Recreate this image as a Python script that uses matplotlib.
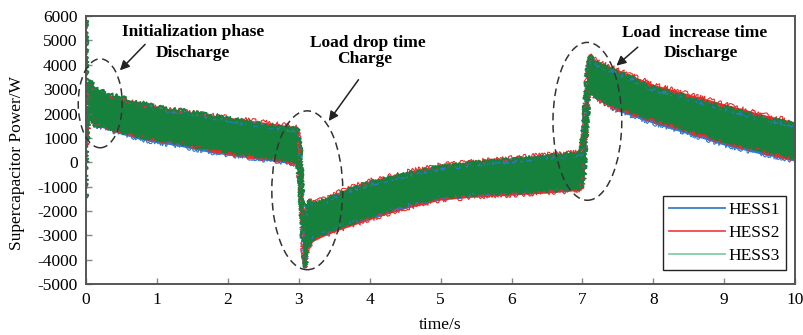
import matplotlib
matplotlib.use("Agg")
import matplotlib.pyplot as plt
from matplotlib.patches import Ellipse
from matplotlib.lines import Line2D

plt.rcParams["font.family"] = ["Liberation Serif", "DejaVu Serif"]
plt.rcParams["font.size"] = 12.5
plt.rcParams["axes.unicode_minus"] = False

# time points (s) where the band edges were read
t = [0, 0.005, 0.02, 0.04, 0.07, 0.1, 0.14, 0.2, 0.3, 0.5,
     0.75, 1.0, 1.25, 1.5, 1.75, 2.0, 2.25, 2.5, 2.75, 2.98,
     3.02, 3.06, 3.09, 3.13, 3.2, 3.3, 3.5, 3.75, 4.0, 4.5,
     5.0, 5.5, 6.0, 6.5, 6.98, 7.02, 7.06, 7.1, 7.2, 7.5,
     8.0, 8.5, 9.0, 9.5, 10.0]

# HESS1 (blue) band
hess1_upper = [1000, 1400, 2200, 2950, 3300, 3100, 2950, 2900, 2750, 2600,
               2400, 2200, 2100, 2000, 1850, 1750, 1600, 1500, 1400, 1300,
               450, -1850, -2350, -1600, -1800, -1700, -1450, -1150, -900, -550,
               -250, -80, 50, 200, 300, 1450, 3450, 4300, 4000, 3650,
               3000, 2600, 2200, 1800, 1500]
hess1_lower = [800, 700, 950, 1650, 1900, 1650, 1450, 1450, 1350, 1150,
               950, 800, 700, 550, 400, 300, 200, 100, 0, -100,
               -950, -3550, -4350, -3450, -3150, -3000, -2750, -2500, -2250, -1800,
               -1450, -1350, -1280, -1200, -1100, -650, 1450, 3000, 2600, 2100,
               1600, 1150, 700, 350, 50]

# HESS2 (red) band
hess2_upper = [1000, 1400, 2200, 2950, 3300, 3100, 2950, 2900, 2750, 2600,
               2400, 2250, 2150, 2050, 1950, 1850, 1750, 1650, 1550, 1450,
               550, -1750, -2250, -1500, -1650, -1550, -1300, -1000, -750, -400,
               -100, 50, 180, 320, 420, 1550, 3550, 4400, 4150, 3800,
               3200, 2800, 2400, 2000, 1650]
hess2_lower = [800, 700, 950, 1650, 1900, 1650, 1450, 1500, 1400, 1200,
               1050, 900, 800, 650, 500, 350, 250, 150, 50, -80,
               -1000, -3600, -4350, -3500, -3250, -3100, -2850, -2600, -2350, -1900,
               -1550, -1420, -1350, -1260, -1150, -700, 1450, 3000, 2600, 2150,
               1700, 1250, 800, 450, 120]

# HESS3 (green) band
hess3_upper = [6000, 1500, 2300, 3000, 3350, 3150, 3000, 2950, 2800, 2650,
               2450, 2250, 2150, 2050, 1900, 1800, 1650, 1550, 1450, 1350,
               500, -1800, -2300, -1550, -1750, -1650, -1400, -1100, -850, -500,
               -200, -30, 100, 250, 350, 1500, 3500, 4350, 4050, 3700,
               3050, 2650, 2250, 1850, 1550]
hess3_lower = [-1500, 800, 1000, 1700, 1950, 1700, 1500, 1550, 1450, 1250,
               1100, 950, 850, 700, 600, 450, 350, 250, 150, 50,
               -900, -3500, -4300, -3400, -3100, -2950, -2700, -2450, -2200, -1750,
               -1400, -1300, -1230, -1150, -1050, -600, 1500, 3050, 2700, 2250,
               1800, 1350, 900, 550, 200]

series = [
    ("HESS1", hess1_upper, hess1_lower, "#2b7bd4", "#3a7cc4", 0.8),
    ("HESS2", hess2_upper, hess2_lower, "#ec2a2a", "#f04a4a", 0.8),
    ("HESS3", hess3_upper, hess3_lower, "#16813c", "#88cca6", 1.4),
]

fig = plt.figure(figsize=(8.04, 3.35), dpi=100)
ax = fig.add_axes([0.107, 0.152, 0.882, 0.8])

handles = []
for name, up, lo, fc, lc, ew in series:
    ax.fill_between(t, lo, up, color=fc, lw=0)
    # noisy edges of the oscillating band
    for edge in (up, lo):
        ln, = ax.plot(t, edge, color=fc, lw=ew)
        ln.set_sketch_params(scale=2.2, length=1.0, randomness=30)
    handles.append(Line2D([], [], color=lc, lw=1.3, label=name))

ax.set_xlim(0, 10)
ax.set_ylim(-5000, 6000)
ax.set_xticks(range(0, 11))
ax.set_yticks(range(-5000, 6001, 1000))
ax.tick_params(direction="in", length=4, width=1, color="#888888", pad=6)
for s in ax.spines.values():
    s.set_color("#555555")
    s.set_linewidth(1.4)
    s.set_zorder(6)

ax.set_xlabel("time/s", labelpad=6)
ax.set_ylabel("Supercapacitor Power/W", labelpad=4)
ax.yaxis.set_label_coords(-0.086, 0.45)

# dashed ellipses marking the three transients
for cx, cy, w, h in [(0.2, 2420, 0.62, 3650), (3.12, -1150, 1.0, 6520), (7.07, 1680, 0.97, 6480)]:
    ax.add_patch(Ellipse((cx, cy), w, h, fill=False, ls=(0, (5, 3)), lw=1.1,
                         ec="#333333", clip_on=False, zorder=7))

bold = dict(fontweight="bold", ha="center", va="center", fontsize=12.5)
ax.text(1.51, 5330, "Initialization phase", **bold)
ax.text(1.50, 4480, "Discharge", **bold)
ax.text(3.98, 4880, "Load drop time", **bold)
ax.text(3.93, 4220, "Charge", **bold)
ax.text(8.58, 5290, "Load  increase time", **bold)
ax.text(8.67, 4470, "Discharge", **bold)

arrow = dict(arrowstyle="-|>", color="#222222", lw=1.1, mutation_scale=14)
ax.annotate("", xy=(0.45, 3690), xytext=(0.86, 4920), arrowprops=arrow)
ax.annotate("", xy=(3.40, 1600), xytext=(3.865, 3480), arrowprops=arrow)
ax.annotate("", xy=(7.45, 3890), xytext=(7.81, 4800), arrowprops=arrow)

leg = ax.legend(handles=handles, loc="lower right", bbox_to_anchor=(0.987, 0.052),
                borderaxespad=0, fancybox=False, edgecolor="#222222",
                handlelength=3.2, handletextpad=0.2, labelspacing=0.4,
                borderpad=0.35, framealpha=1)
leg.get_frame().set_linewidth(1.0)
leg.set_zorder(8)

fig.savefig("out.png", dpi=100)
